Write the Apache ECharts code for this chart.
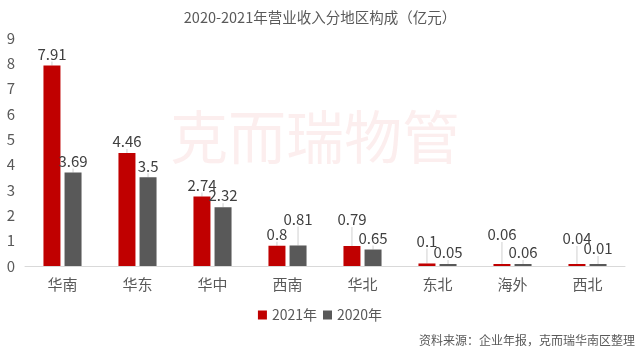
<!DOCTYPE html>
<html>
<head>
<meta charset="utf-8">
<script src="https://cdn.jsdelivr.net/npm/echarts@6/dist/echarts.min.js"></script>
<style>
  html, body { margin: 0; padding: 0; background: #fff; }
  #chart { width: 640px; height: 352px; }
</style>
</head>
<body>
<div id="chart"></div>
<script>
// 数据
const regions = ['华南', '华东', '华中', '西南', '华北', '东北', '海外', '西北'];
const rev2021 = [7.91, 4.46, 2.74, 0.8, 0.79, 0.1, 0.06, 0.04];
const rev2020 = [3.69, 3.5, 2.32, 0.81, 0.65, 0.05, 0.06, 0.01];

// 标签上移量（带引导线）
const lift2021 = [0, 0, 0, 0, -15, -11, -18, -14];
const lift2020 = [0, 0, 0, -15, 0, 0, 0, -4];

const FONT = '"Noto Sans CJK SC", "Noto Sans", sans-serif';
const chart = echarts.init(document.getElementById('chart'));

function barSeries(name, data, color, lift) {
    return {
        name: name,
        type: 'bar',
        data: data,
        barWidth: 17,
        barGap: '24%',
        barMinHeight: 2,
        itemStyle: { color: color },
        label: {
            show: true,
            position: 'top',
            distance: 4,
            color: '#404040',
            fontSize: 15,
            fontFamily: FONT
        },
        labelLine: {
            show: true,
            length2: 0,
            lineStyle: { color: '#d0d0d0', width: 1 }
        },
        labelLayout: (p) => ({ dy: lift[p.dataIndex] })
    };
}

chart.setOption({
    animation: false,
    textStyle: { fontFamily: FONT },
    title: {
        text: '2020-2021年营业收入分地区构成（亿元）',
        left: 'center',
        top: 5,
        textStyle: { fontSize: 14.5, fontWeight: 'normal', color: '#595959', fontFamily: FONT }
    },
    graphic: [
        {
            type: 'text',
            left: 170,
            top: 108,
            z: -1,
            style: {
                text: '克而瑞物管',
                fontSize: 58,
                fontFamily: FONT,
                fontWeight: 'normal',
                fill: 'rgba(220, 40, 40, 0.08)'
            }
        },
        {
            type: 'text',
            right: 5,
            top: 334,
            style: {
                text: '资料来源：企业年报，克而瑞华南区整理',
                fontSize: 12,
                fontFamily: FONT,
                fill: '#595959'
            }
        }
    ],
    legend: {
        bottom: 25,
        left: 'center',
        itemWidth: 9,
        itemHeight: 9,
        itemGap: 6,
        icon: 'rect',
        textStyle: { fontSize: 14, color: '#595959', fontFamily: FONT },
        data: ['2021年', '2020年']
    },
    grid: { left: 25, right: 15, top: 38, bottom: 86 },
    xAxis: {
        type: 'category',
        data: regions,
        axisLine: { lineStyle: { color: '#d9d9d9' } },
        axisTick: { show: false },
        axisLabel: { color: '#595959', fontSize: 15, margin: 11, fontFamily: FONT }
    },
    yAxis: {
        type: 'value',
        min: 0,
        max: 9,
        interval: 1,
        splitLine: { show: false },
        axisLine: { show: false },
        axisTick: { show: false },
        axisLabel: { color: '#595959', fontSize: 15, margin: 10, fontFamily: FONT }
    },
    series: [
        barSeries('2021年', rev2021, '#C00000', lift2021),
        barSeries('2020年', rev2020, '#595959', lift2020)
    ]
});
</script>
</body>
</html>
